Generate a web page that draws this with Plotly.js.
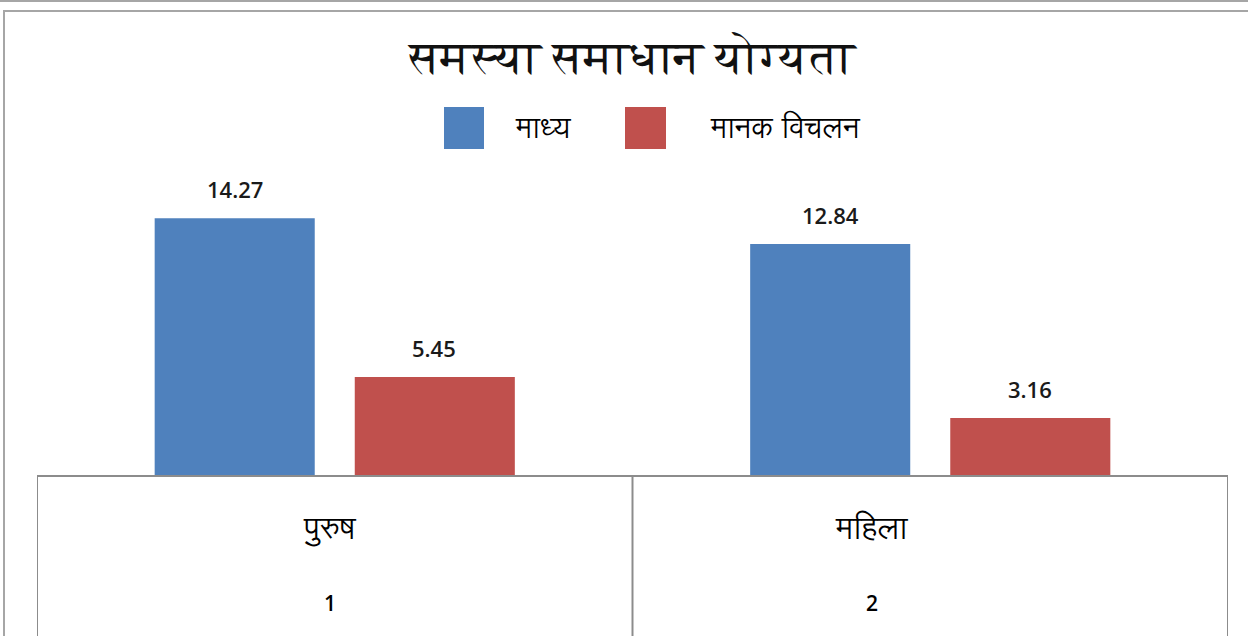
<!DOCTYPE html>
<html>
<head>
<meta charset="utf-8">
<script src="https://cdn.plot.ly/plotly-3.0.1.min.js"></script>
<style>
  html, body { margin: 0; padding: 0; background: #ffffff; }
  #wrap { position: relative; width: 1248px; height: 636px; overflow: hidden; }
  #topline { position: absolute; left: 0; top: 0; width: 1248px; height: 0; border-top: 2px solid #a6a6a6; }
  #frame { position: absolute; left: 3px; top: 10px; width: 1260px; height: 700px; border: 2px solid #a6a6a6; box-sizing: border-box; }
  #chart { position: absolute; left: 0; top: 0; width: 1248px; height: 636px; }
</style>
</head>
<body>
<div id="wrap">
  <div id="topline"></div>
  <div id="frame"></div>
  <div id="chart"></div>
</div>
<script>
// ---- data ----
const categories = ["पुरुष", "महिला"];
const categoryNumbers = ["1", "2"];
const seriesNames = ["माध्य", "मानक विचलन"];
const meanValues = [14.27, 12.84];
const sdValues = [5.45, 3.16];
const chartTitle = "समस्या समाधान योग्यता";

const colors = ["#4F81BD", "#C0504D"];
const titleFont = "FreeSerif, Noto Serif Devanagari, Lohit Devanagari, Noto Sans Devanagari, serif";
const devFont = "Lohit Devanagari, FreeSans, Noto Sans Devanagari, Noto Sans, sans-serif";
const numFont = "Open Sans, Lato, sans-serif";

const seriesValues = [meanValues, sdValues];

const traces = seriesValues.map((vals, i) => ({
  type: "bar",
  x: categories,
  y: vals,
  name: seriesNames[i],
  marker: { color: colors[i], line: { width: 0 } },
  hoverinfo: "x+y+name",
  showlegend: false
}));

const annotations = [];
// value labels
seriesValues.forEach((vals, i) => {
  vals.forEach((v, j) => {
    annotations.push({
      x: categories[j], y: v, xref: "x", yref: "y",
      xshift: i === 0 ? -99.5 : 99.5,
      yshift: 12,
      yanchor: "bottom", xanchor: "center",
      text: v.toFixed(2),
      showarrow: false,
      font: { family: numFont, size: 22, color: "#1a1a1a", weight: 600 }
    });
  });
});
// category labels in table area (label column offsets as in the reference)
const labelShift = [-5, -58];
categories.forEach((c, j) => {
  annotations.push({
    x: c, y: -0.19, xref: "x", yref: "paper",
    xshift: labelShift[j],
    text: c, showarrow: false, yanchor: "middle",
    font: { family: devFont, size: 31, color: "#000000", weight: 400 }
  });
  annotations.push({
    x: c, y: -0.445, xref: "x", yref: "paper",
    xshift: labelShift[j],
    text: categoryNumbers[j], showarrow: false, yanchor: "middle",
    font: { family: numFont, size: 21, color: "#000000", weight: 600 }
  });
});

// legend (drawn in paper coords)
// plot area: x from 37 to 1228 px (1191 px), y from 187 to 475 px (288 px)
const px = p => (p - 37) / 1191;
const py = p => (475 - p) / 288;
const legendItems = [
  { sx0: 444, sx1: 484, tx: 513 },
  { sx0: 625, sx1: 666, tx: 708 }
];
const shapes = [];
legendItems.forEach((it, i) => {
  shapes.push({
    type: "rect", xref: "paper", yref: "paper",
    x0: px(it.sx0), x1: px(it.sx1), y0: py(149), y1: py(107),
    fillcolor: colors[i], line: { width: 0 }
  });
  annotations.push({
    x: px(it.tx), y: py(130), xref: "paper", yref: "paper",
    xanchor: "left", yanchor: "middle", showarrow: false,
    text: seriesNames[i],
    font: { family: devFont, size: 29, color: "#000000", weight: 400 }
  });
});

// table lines below the axis
[-0.5, 0.5, 1.5].forEach(xv => {
  shapes.push({
    type: "line", xref: "x", yref: "paper",
    x0: xv, x1: xv, y0: 0, y1: -0.62,
    line: { color: "#8c8c8c", width: 2 }
  });
});

const layout = {
  width: 1248, height: 636,
  margin: { l: 37, r: 20, t: 187, b: 161 },
  paper_bgcolor: "rgba(0,0,0,0)",
  plot_bgcolor: "rgba(0,0,0,0)",
  title: {
    text: chartTitle,
    x: 0.5, xref: "paper", xanchor: "center",
    y: 1 - 57 / 636, yref: "container", yanchor: "middle",
    font: { family: titleFont, size: 46, color: "#111111", weight: 400 }
  },
  barmode: "group",
  bargap: 0.328,
  bargroupgap: 0.2,
  xaxis: {
    type: "category",
    range: [-0.5, 1.5],
    showticklabels: false,
    ticks: "",
    showgrid: false,
    zeroline: false,
    showline: true,
    linecolor: "#8c8c8c",
    linewidth: 2,
    fixedrange: true
  },
  yaxis: {
    range: [0, 16],
    visible: false,
    showgrid: false,
    zeroline: false,
    fixedrange: true
  },
  shapes: shapes,
  annotations: annotations,
  showlegend: false
};

Plotly.newPlot("chart", traces, layout, { displayModeBar: false, staticPlot: true });
</script>
</body>
</html>
